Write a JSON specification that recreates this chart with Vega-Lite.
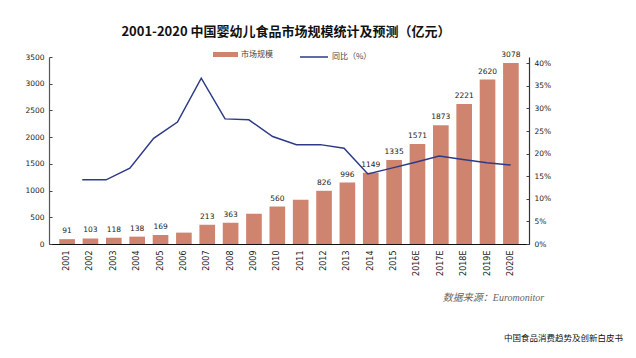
{
  "$schema": "https://vega.github.io/schema/vega-lite/v6.json",
  "width": 480,
  "height": 187,
  "autosize": "none",
  "padding": {"left": 49, "top": 57, "right": 107, "bottom": 114},
  "background": "white",
  "config": {
    "view": {"stroke": null},
    "font": "Noto Sans CJK SC",
    "axis": {"grid": false, "labelFont": "DejaVu Sans", "labelColor": "#222"}
  },
  "title": {
    "text": "2001-2020 中国婴幼儿食品市场规模统计及预测（亿元）",
    "font": "Noto Sans CJK SC",
    "fontSize": 13,
    "fontWeight": "bold",
    "color": "#111",
    "anchor": "middle",
    "offset": 3,
    "dx": -3
  },
  "data": {
    "values": [
      {"year": "2001", "value": 91, "label": "91", "yoy": null},
      {"year": "2002", "value": 103, "label": "103", "yoy": 0.142},
      {"year": "2003", "value": 118, "label": "118", "yoy": 0.142},
      {"year": "2004", "value": 138, "label": "138", "yoy": 0.168},
      {"year": "2005", "value": 169, "label": "169", "yoy": 0.234},
      {"year": "2006", "value": 213, "label": null, "yoy": 0.270},
      {"year": "2007", "value": 360, "label": "213", "yoy": 0.367},
      {"year": "2008", "value": 400, "label": "363", "yoy": 0.277},
      {"year": "2009", "value": 565, "label": null, "yoy": 0.275},
      {"year": "2010", "value": 700, "label": "560", "yoy": 0.238},
      {"year": "2011", "value": 826, "label": null, "yoy": 0.220},
      {"year": "2012", "value": 996, "label": "826", "yoy": 0.220},
      {"year": "2013", "value": 1149, "label": "996", "yoy": 0.212},
      {"year": "2014", "value": 1335, "label": "1149", "yoy": 0.155},
      {"year": "2015", "value": 1571, "label": "1335", "yoy": 0.168},
      {"year": "2016E", "value": 1873, "label": "1571", "yoy": 0.181},
      {"year": "2017E", "value": 2221, "label": "1873", "yoy": 0.195},
      {"year": "2018E", "value": 2620, "label": "2221", "yoy": 0.187},
      {"year": "2019E", "value": 3078, "label": "2620", "yoy": 0.180},
      {"year": "2020E", "value": 3390, "label": "3078", "yoy": 0.175}
    ]
  },
  "layer": [
    {
      "encoding": {
        "x": {
          "field": "year",
          "type": "ordinal",
          "scale": {
            "domain": ["2001","2002","2003","2004","2005","2006","2007","2008","2009","2010","2011","2012","2013","2014","2015","2016E","2017E","2018E","2019E","2020E"],
            "paddingInner": 0.33,
            "paddingOuter": 0.44
          },
          "axis": {
            "title": "数据来源：Euromonitor",
            "titleFont": "Liberation Serif, Noto Sans CJK SC",
            "titleFontStyle": "italic",
            "titleFontWeight": "normal",
            "titleFontSize": 10,
            "titleColor": "#666",
            "titleAngle": 0,
            "titleAlign": "center",
            "titleBaseline": "middle",
            "titleX": 444,
            "titleY": 53,
            "labelAngle": -90,
            "labelAlign": "right",
            "labelBaseline": "middle",
            "labelFontSize": 8,
            "labelPadding": 6,
            "ticks": false,
            "domainColor": "#111",
            "domainWidth": 1.2
          }
        },
        "y": {
          "field": "value",
          "type": "quantitative",
          "scale": {"domain": [0, 3500], "nice": false},
          "axis": {
            "title": null,
            "format": "d",
            "values": [0, 500, 1000, 1500, 2000, 2500, 3000, 3500],
            "labelFontSize": 7.5,
            "tickSize": -3,
            "labelPadding": 8,
            "tickColor": "#444",
            "domainColor": "#555",
            "domainWidth": 1.2
          }
        }
      },
      "layer": [
        {
          "mark": {"type": "bar", "color": "#CF8470"},
          "encoding": {
            "fill": {
              "datum": "市场规模",
              "type": "nominal",
              "scale": {"range": ["#CF8470"]},
              "legend": {
                "title": null,
                "orient": "none",
                "legendX": 164,
                "legendY": -15,
                "symbolType": "M-1,-0.2H1V0.2H-1Z",
                "symbolSize": 625,
                "symbolStrokeWidth": 0,
                "labelFont": "Noto Sans CJK SC",
                "labelFontSize": 8,
                "labelColor": "#444",
                "labelOffset": 3
              }
            }
          }
        },
        {
          "transform": [{"filter": "datum.label != null"}],
          "mark": {"type": "text", "dy": -8, "baseline": "middle", "font": "DejaVu Sans", "fontSize": 7.5, "color": "#222"},
          "encoding": {"text": {"field": "label", "type": "nominal"}}
        }
      ]
    },
    {
      "mark": {"type": "line", "strokeWidth": 1.5, "color": "#2E3A87"},
      "encoding": {
        "x": {
          "field": "year",
          "type": "ordinal",
          "scale": {
            "type": "point",
            "domain": ["2001","2002","2003","2004","2005","2006","2007","2008","2009","2010","2011","2012","2013","2014","2015","2016E","2017E","2018E","2019E","2020E"],
            "padding": 0.584,
            "align": 0.34
          },
          "axis": null
        },
        "y": {
          "field": "yoy",
          "type": "quantitative",
          "scale": {"domain": [0, 0.414], "nice": false},
          "axis": {
            "orient": "right",
            "format": ".0%",
            "values": [0, 0.05, 0.1, 0.15, 0.2, 0.25, 0.3, 0.35, 0.4],
            "labelFontSize": 7.5,
            "tickSize": -3,
            "labelPadding": 8,
            "tickColor": "#444",
            "domainColor": "#333",
            "domainWidth": 1.2,
            "title": "中国食品消费趋势及创新白皮书",
            "titleFont": "Noto Sans CJK SC",
            "titleFontSize": 8.5,
            "titleFontWeight": "normal",
            "titleColor": "#111",
            "titleAngle": 0,
            "titleAlign": "center",
            "titleBaseline": "middle",
            "titleX": 34,
            "titleY": 280
          }
        },
        "stroke": {
          "datum": "同比（%）",
          "type": "nominal",
          "scale": {"range": ["#2E3A87"]},
          "legend": {
            "title": null,
            "orient": "none",
            "legendX": 250,
            "legendY": -15,
            "symbolType": "stroke",
            "symbolSize": 784,
            "symbolStrokeWidth": 1.5,
            "labelFont": "Noto Sans CJK SC",
            "labelFontSize": 8,
            "labelColor": "#444",
            "labelOffset": 3
          }
        }
      }
    }
  ],
  "resolve": {"scale": {"x": "independent", "y": "independent"}}
}
